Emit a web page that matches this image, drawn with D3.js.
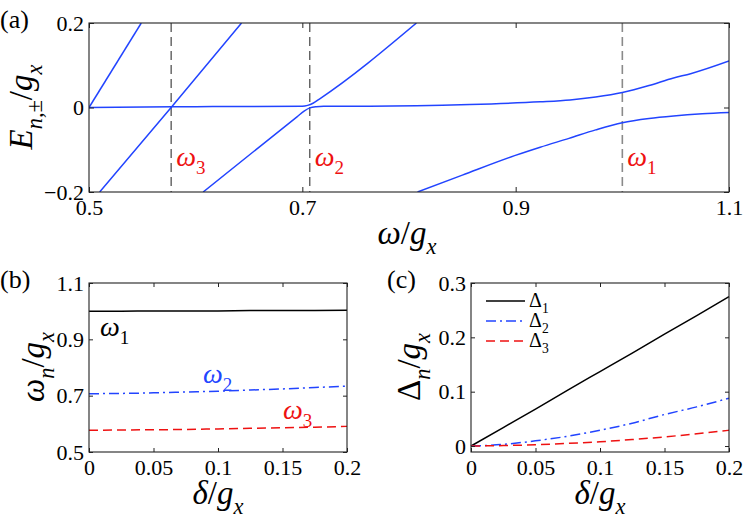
<!DOCTYPE html>
<html>
<head>
  <meta charset="utf-8">
  <script src="https://d3js.org/d3.v7.min.js"></script>
  <style>
    body { margin: 0; background: #fff; }
  </style>
</head>
<body>
<script>
  "use strict";

  /*
    Data
  */

  // (a) energy branches E/g_x versus omega/g_x
  var branchA = [[0.5, 0], [0.549, 0.2]];
  var branchB = [[0.510, -0.2], [0.577, 0], [0.643, 0.2]];
  var branchC = [[0.5, 0.0], [0.6, 0.002], [0.7, 0.003], [0.705, 0.005], [0.71, 0.01],
                 [0.716, 0.02], [0.807, 0.2]];
  var branchD = [[0.607, -0.2], [0.695, -0.022], [0.702, -0.008], [0.707, -0.001],
                 [0.713, 0.002], [0.72, 0.003], [0.763, 0.003], [0.857, 0.007],
                 [0.923, 0.0135], [0.951, 0.018], [0.975, 0.025], [1.0, 0.0356],
                 [1.025, 0.052], [1.048, 0.07], [1.064, 0.08], [1.1, 0.11]];
  var branchE = [[0.808, -0.2], [0.85, -0.16], [0.899, -0.114], [0.923, -0.094],
                 [0.95, -0.073], [0.975, -0.053], [1.0, -0.036], [1.025, -0.026],
                 [1.048, -0.02], [1.075, -0.015], [1.1, -0.012]];
  var resonances = [0.577, 0.707, 1.0];
  var resonanceNames = ["3", "2", "1"];
  var omegaTicks = [0.5, 0.7, 0.9, 1.1];
  var energyTicks = [-0.2, 0, 0.2];

  // (b) and (c) versus delta/g_x
  var deltas = [0, 0.025, 0.05, 0.075, 0.1, 0.125, 0.15, 0.175, 0.2];
  var omega1 = [1.0, 1.0, 1.001, 1.001, 1.001, 1.002, 1.002, 1.002, 1.003];
  var omega2 = [0.707, 0.708, 0.710, 0.713, 0.716, 0.72, 0.724, 0.729, 0.734];
  var omega3 = [0.577, 0.578, 0.579, 0.580, 0.582, 0.584, 0.586, 0.588, 0.591];
  var gap1 = [0, 0.034, 0.068, 0.103, 0.137, 0.171, 0.206, 0.240, 0.275];
  var gap2 = [0, 0.003, 0.0096, 0.018, 0.029, 0.042, 0.058, 0.072, 0.088];
  var gap3 = [0, 0.0008, 0.0024, 0.0048, 0.0078, 0.012, 0.0168, 0.0225, 0.029];
  var deltaTicks = [0, 0.05, 0.1, 0.15, 0.2];
  var omegaNTicks = [0.5, 0.7, 0.9, 1.1];
  var gapTicks = [0, 0.1, 0.2, 0.3];

  var BLUE = "#2244ff", RED = "#ee1111";
  var SERIF = "'Liberation Serif'";

  var svg = d3.select("body").append("svg")
      .attr("width", 747)
      .attr("height", 518);

  function fmt(d) {
    return d === 0 ? "0" : String(d).replace("-", "\u2212");
  }

  // italic/upright pieces with subscripts
  function mathText(sel, parts, size) {
    var t = sel.append("text").attr("font-size", size).style("font-family", SERIF);
    var shift = 0;
    parts.forEach(function (p) {
      var ts = t.append("tspan").text(p.t).style("font-family", SERIF);
      if (p.it) ts.style("font-style", "italic");
      var target = p.sub ? size * 0.3 : 0;
      if (target !== shift) { ts.attr("dy", target - shift); shift = target; }
      if (p.sub) ts.attr("font-size", size * 0.68);
    });
    return t;
  }

  function frame(x, y, xt, yt, tick) {
    var g = svg.append("g");
    var x0 = x.range()[0], x1 = x.range()[1], y0 = y.range()[0], y1 = y.range()[1];
    g.append("g").attr("transform", "translate(0," + y0 + ")")
      .call(d3.axisBottom(x).tickValues(xt).tickSize(-tick).tickPadding(7).tickFormat(fmt));
    g.append("g").attr("transform", "translate(0," + y1 + ")")
      .call(d3.axisTop(x).tickValues(xt).tickSize(-tick).tickFormat(""));
    g.append("g").attr("transform", "translate(" + x0 + ",0)")
      .call(d3.axisLeft(y).tickValues(yt).tickSize(-tick).tickPadding(5).tickFormat(fmt));
    g.append("g").attr("transform", "translate(" + x1 + ",0)")
      .call(d3.axisRight(y).tickValues(yt).tickSize(-tick).tickFormat(""));
    g.selectAll(".domain").remove();
    g.selectAll("g").attr("font-family", null);
    g.selectAll(".tick line").attr("stroke", "#222");
    g.selectAll(".tick text").attr("font-size", 22).style("font-family", SERIF)
      .attr("fill", "#000");
    g.append("rect").attr("x", x0).attr("y", y1)
      .attr("width", x1 - x0).attr("height", y0 - y1)
      .attr("fill", "none").attr("stroke", "#222").attr("stroke-width", 1.1);
    return g;
  }

  function panelLabel(x, y, s) {
    svg.append("text").attr("x", x).attr("y", y).attr("font-size", 26)
      .style("font-family", SERIF).text(s);
  }

  /*
    Panel (a)
  */
  var xa = d3.scaleLinear().domain([0.5, 1.1]).range([89, 729]);
  var ya = d3.scaleLinear().domain([-0.2, 0.2]).range([192, 23]);

  svg.append("clipPath").attr("id", "clipA").append("rect")
    .attr("x", 89).attr("y", 23).attr("width", 640).attr("height", 169);

  resonances.forEach(function (w, i) {
    svg.append("line")
      .attr("x1", xa(w)).attr("x2", xa(w))
      .attr("y1", ya(0.2)).attr("y2", ya(-0.2))
      .attr("stroke", i === 2 ? "#8a8a8a" : "#333")
      .attr("stroke-width", i === 2 ? 1.6 : 1.1)
      .attr("stroke-dasharray", "9,5");
  });

  var lineA = d3.line().x(function (d) { return xa(d[0]); })
      .y(function (d) { return ya(d[1]); }).curve(d3.curveMonotoneX);
  [branchA, branchB, branchC, branchD, branchE].forEach(function (b) {
    svg.append("path").datum(b).attr("d", lineA)
      .attr("clip-path", "url(#clipA)")
      .attr("fill", "none").attr("stroke", BLUE).attr("stroke-width", 1.5);
  });

  frame(xa, ya, omegaTicks, energyTicks, 5);

  resonances.forEach(function (w, i) {
    mathText(svg, [{t: "\u03c9", it: true}, {t: resonanceNames[i], sub: true}], 28)
      .attr("x", xa(w) + 5).attr("y", 166)
      .selectAll("tspan").style("fill", RED);
  });

  mathText(svg, [{t: "\u03c9", it: true}, {t: "/"}, {t: "g", it: true}, {t: "x", it: true, sub: true}], 33)
    .attr("x", 407).attr("y", 244).attr("text-anchor", "middle");
  mathText(svg.append("g").attr("transform", "translate(32,107) rotate(-90)"),
    [{t: "E", it: true}, {t: "n,\u00b1", it: true, sub: true}, {t: "/"}, {t: "g", it: true}, {t: "x", it: true, sub: true}], 33)
    .attr("text-anchor", "middle");

  panelLabel(0, 28, "(a)");

  /*
    Panel (b)
  */
  var xb = d3.scaleLinear().domain([0, 0.2]).range([89, 347]);
  var yb = d3.scaleLinear().domain([0.5, 1.1]).range([452, 283]);

  var seriesB = [
    {v: omega1, color: "#000", dash: null},
    {v: omega2, color: BLUE, dash: "10,4,2,4"},
    {v: omega3, color: RED, dash: "9,5"}
  ];
  seriesB.forEach(function (s) {
    var ln = d3.line().x(function (d, i) { return xb(deltas[i]); })
        .y(function (d) { return yb(d); }).curve(d3.curveMonotoneX);
    svg.append("path").datum(s.v).attr("d", ln)
      .attr("fill", "none").attr("stroke", s.color).attr("stroke-width", 1.5)
      .attr("stroke-dasharray", s.dash);
  });

  frame(xb, yb, deltaTicks, omegaNTicks, 4);

  mathText(svg, [{t: "\u03c9", it: true}, {t: "1", sub: true}], 28)
    .attr("x", 100).attr("y", 336);
  mathText(svg, [{t: "\u03c9", it: true}, {t: "2", sub: true}], 28)
    .attr("x", 203).attr("y", 383).selectAll("tspan").style("fill", BLUE);
  mathText(svg, [{t: "\u03c9", it: true}, {t: "3", sub: true}], 28)
    .attr("x", 283).attr("y", 419).selectAll("tspan").style("fill", RED);

  mathText(svg, [{t: "\u03b4", it: true}, {t: "/"}, {t: "g", it: true}, {t: "x", it: true, sub: true}], 33)
    .attr("x", 218).attr("y", 504).attr("text-anchor", "middle");
  mathText(svg.append("g").attr("transform", "translate(44,367) rotate(-90)"),
    [{t: "\u03c9", it: true}, {t: "n", it: true, sub: true}, {t: "/"}, {t: "g", it: true}, {t: "x", it: true, sub: true}], 33)
    .attr("text-anchor", "middle");

  panelLabel(0, 288, "(b)");

  /*
    Panel (c)
  */
  var xc = d3.scaleLinear().domain([0, 0.2]).range([471, 729]);
  var yc = d3.scaleLinear().domain([-0.011, 0.3]).range([452, 283]);

  var seriesC = [
    {v: gap1, color: "#000", dash: null, name: "1"},
    {v: gap2, color: BLUE, dash: "10,4,2,4", name: "2"},
    {v: gap3, color: RED, dash: "9,5", name: "3"}
  ];
  seriesC.forEach(function (s) {
    var ln = d3.line().x(function (d, i) { return xc(deltas[i]); })
        .y(function (d) { return yc(d); }).curve(d3.curveMonotoneX);
    svg.append("path").datum(s.v).attr("d", ln)
      .attr("fill", "none").attr("stroke", s.color).attr("stroke-width", 1.5)
      .attr("stroke-dasharray", s.dash);
  });

  frame(xc, yc, deltaTicks, gapTicks, 4);

  // legend
  seriesC.forEach(function (s, i) {
    var ly = 301 + i * 20;
    svg.append("line").attr("x1", 486).attr("x2", 525).attr("y1", ly).attr("y2", ly)
      .attr("stroke", s.color).attr("stroke-width", 1.5).attr("stroke-dasharray", s.dash);
    mathText(svg, [{t: "\u0394"}, {t: s.name, sub: true}], 20)
      .attr("x", 529).attr("y", ly + 6);
  });

  mathText(svg, [{t: "\u03b4", it: true}, {t: "/"}, {t: "g", it: true}, {t: "x", it: true, sub: true}], 33)
    .attr("x", 600).attr("y", 504).attr("text-anchor", "middle");
  mathText(svg.append("g").attr("transform", "translate(420,367) rotate(-90)"),
    [{t: "\u0394"}, {t: "n", it: true, sub: true}, {t: "/"}, {t: "g", it: true}, {t: "x", it: true, sub: true}], 33)
    .attr("text-anchor", "middle");

  panelLabel(387, 288, "(c)");
</script>
</body>
</html>
